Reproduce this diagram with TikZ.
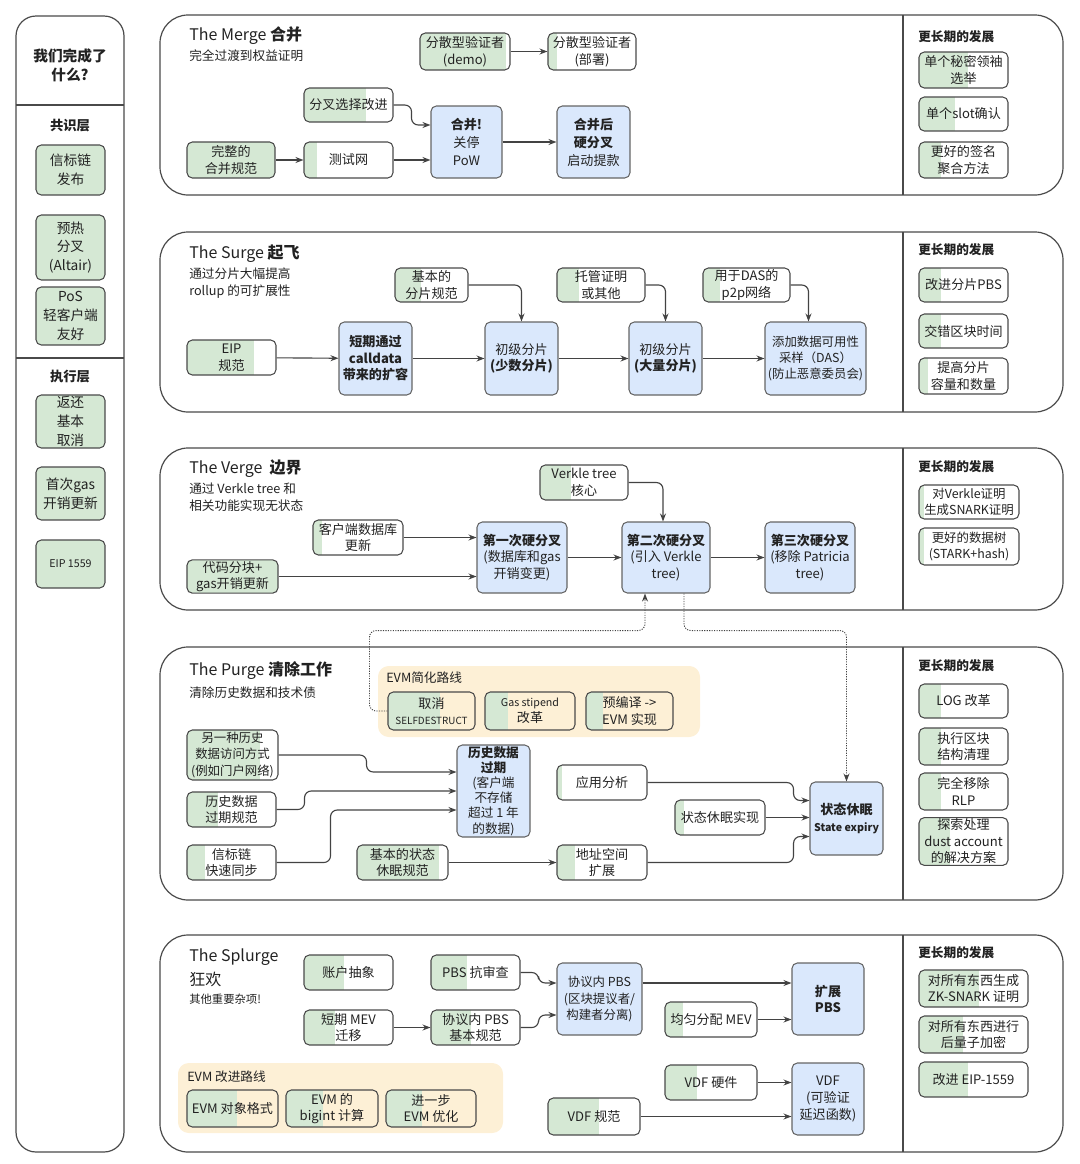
\documentclass[tikz,border=0pt]{standalone}
\usepackage{fontspec}
\setmainfont{Noto Sans CJK SC}
\usetikzlibrary{arrows.meta,calc}
\definecolor{gf}{HTML}{D5E8D4}
\definecolor{bf}{HTML}{DAE8FC}
\definecolor{yf}{HTML}{FDF0D6}
\definecolor{ln}{HTML}{4A4A4A}
\definecolor{tx}{HTML}{222222}
\newcommand\bx[7]{\node[#6, minimum width={(#4-#2)*0.75pt}, minimum height={(#5-#3)*0.75pt}] (#1) at ({(#2+#4)/2},{(#3+#5)/2}) {#7};}
\newcommand\fs[2]{\fontsize{#1}{#2}\selectfont}
\begin{document}
\begin{tikzpicture}[x=0.75pt,y=-0.75pt,
  box/.style={draw=ln, line width=0.8pt, rounded corners=4pt, align=center, inner sep=1pt, text=tx, font=\fs{9.8}{12.4}},
  nb/.style={font=\fs{9.3}{12.2}},
  gp/.style={box, path picture={\fill[gf, sharp corners] (path picture bounding box.south west) rectangle ($(path picture bounding box.north west)!#1!(path picture bounding box.north east)$);}},
  bb/.style={box, fill=bf, draw=ln!85},
  panel/.style={draw=ln, line width=0.9pt, rounded corners=21pt},
  arr/.style={draw=ln!90!black, line width=0.85pt, -{Stealth[length=6pt,width=4.5pt]}, rounded corners=5pt},
  darr/.style={arr, densely dotted, line width=0.7pt},
  ttl/.style={anchor=west, font=\fs{12}{14}, inner sep=0, text=tx},
  sub/.style={anchor=west, font=\fs{9.5}{12.5}, inner sep=0, align=left, text=tx},
  hd/.style={anchor=west, font=\fs{9.5}{12}\bfseries, inner sep=0, text=tx},
  ybox/.style={fill=yf, rounded corners=8pt}
]
\useasboundingbox (0,0) rectangle (1080,1164);

% ---------------- left column ----------------
\draw[panel, rounded corners=15pt] (16,16) rectangle (124,1152);
\draw[ln, line width=0.8pt] (16,105) -- (124,105);
\draw[ln, line width=0.8pt] (16,358) -- (124,358);
\node[font=\fs{11}{14}\bfseries, align=center, text=tx] (lt) at (70,65) {我们完成了\\什么?};
\node[font=\fs{10}{12}\bfseries, text=tx] (l1) at (70,126) {共识层};
\bx{c1}{36}{145}{105}{195}{gp=1, font=\fs{10.3}{14}}{信标链\\发布}
\bx{c2}{36}{215}{105}{280}{gp=1, font=\fs{10.3}{14}}{预热\\分叉\\(Altair)}
\bx{c3}{36}{287}{105}{345}{gp=1, font=\fs{10.3}{14}}{PoS\\轻客户端\\友好}
\node[font=\fs{10}{12}\bfseries, text=tx] (l2) at (70,377) {执行层};
\bx{e1}{36}{395}{105}{448}{gp=1, font=\fs{10.3}{14}}{返还\\基本\\取消}
\bx{e2}{36}{467}{105}{520}{gp=1, font=\fs{10.3}{14}}{首次gas\\开销更新}
\bx{e3}{36}{540}{105}{588}{gp=1, font=\fs{8}{10}}{EIP 1559}

% ---------------- panels ----------------
\draw[panel] (160,15) rectangle (1063,195);  \draw[ln, line width=0.8pt] (903,15) -- (903,195);
\draw[panel] (160,232) rectangle (1063,412); \draw[ln, line width=0.8pt] (903,232) -- (903,412);
\draw[panel] (160,448) rectangle (1063,610); \draw[ln, line width=0.8pt] (903,448) -- (903,610);
\draw[panel] (160,647) rectangle (1063,900); \draw[ln, line width=0.8pt] (903,647) -- (903,900);
\draw[panel] (160,935) rectangle (1063,1152); \draw[ln, line width=0.8pt] (903,935) -- (903,1152);

% ---------------- Merge ----------------
\node[ttl] (mt) at (189,36) {The Merge \textbf{合并}};
\node[sub] (mst) at (189,56) {完全过渡到权益证明};
\bx{vd1}{420}{33}{510}{70}{gp=0.95}{分散型验证者\\(demo)}
\bx{vd2}{548}{33}{636}{70}{gp=0.1}{分散型验证者\\(部署)}
\bx{fc}{304}{88}{393}{122}{gp=0.7}{分叉选择改进}
\bx{ms}{187}{142}{275}{178}{gp=1}{完整的\\合并规范}
\bx{tn}{304}{142}{393}{178}{gp=0.15}{测试网}
\bx{m1}{431}{106}{502}{178}{bb, font=\fs{9.8}{13.5}}{\textbf{合并!}\\关停\\PoW}
\bx{m2}{557}{106}{630}{178}{bb, font=\fs{9.8}{13.5}}{\textbf{合并后}\\\textbf{硬分叉}\\启动提款}
\node[hd] (mr) at (918,37) {更长期的发展};
\bx{mr1}{919}{52}{1008}{88}{gp=0.55}{单个秘密领袖\\选举}
\bx{mr2}{919}{97}{1008}{131}{gp=0.4}{单个slot确认}
\bx{mr3}{919}{142}{1008}{178}{gp=0.25}{更好的签名\\聚合方法}
\draw[arr] (vd1) -- (vd2);
\draw[arr] (ms) -- (tn);
\draw[arr] (tn.east) -- (tn.east -| m1.west);
\draw[arr] (fc.east) -- ++(18,0) |- ($(m1.west)+(0,-17)$);
\draw[arr] (m1) -- (m2);

% ---------------- Surge ----------------
\node[ttl] (st) at (189,254) {The Surge \textbf{起飞}};
\node[sub] (sst) at (189,283) {通过分片大幅提高\\rollup 的可扩展性};
\bx{bs}{395}{268}{468}{302}{gp=0.35}{基本的\\分片规范}
\bx{cp}{557}{268}{645}{302}{gp=0.25}{托管证明\\或其他}
\bx{dp}{703}{268}{790}{302}{gp=0.2}{用于DAS的\\p2p网络}
\bx{eip}{187}{340}{276}{375}{gp=0.75}{EIP\\规范}
\bx{s1}{339}{322}{412}{395}{bb}{\textbf{短期通过}\\\textbf{calldata}\\\textbf{带来的扩容}}
\bx{s2}{485}{322}{558}{395}{bb}{初级分片\\\textbf{(少数分片)}}
\bx{s3}{629}{322}{702}{395}{bb}{初级分片\\\textbf{(大量分片)}}
\bx{s4}{765}{322}{866}{395}{bb, nb}{添加数据可用性\\采样（DAS）\\(防止恶意委员会)}
\node[hd] (sr) at (918,250) {更长期的发展};
\bx{sr1}{919}{268}{1008}{302}{gp=0.25}{改进分片PBS}
\bx{sr2}{919}{314}{1008}{348}{gp=0.25}{交错区块时间}
\bx{sr3}{919}{358}{1008}{394}{gp=0.1}{提高分片\\容量和数量}
\draw[arr] (eip) -- (s1);
\draw[arr] (s1) -- (s2);
\draw[arr] (s2) -- (s3);
\draw[arr] (s3) -- (s4);
\draw[arr] (bs.east) -| (s2.north);
\draw[arr] (cp.east) -| (s3.north);
\draw[arr] (dp.east) -| ($(s4.north)+(-7,0)$);

% ---------------- Verge ----------------
\node[ttl] (vt) at (189,469) {The Verge \ \textbf{边界}};
\node[sub] (vst) at (189,497) {通过 Verkle tree 和\\相关功能实现无状态};
\bx{vk}{540}{465}{628}{500}{gp=0.35}{Verkle tree\\核心}
\bx{cdb}{313}{520}{403}{555}{gp=0.1}{客户端数据库\\更新}
\bx{cc}{187}{560}{278}{593}{gp=1}{代码分块+\\gas开销更新}
\bx{v1}{477}{522}{567}{593}{bb}{\textbf{第一次硬分叉}\\(数据库和gas\\开销变更)}
\bx{v2}{622}{522}{710}{593}{bb}{\textbf{第二次硬分叉}\\(引入 Verkle\\tree)}
\bx{v3}{765}{522}{855}{593}{bb}{\textbf{第三次硬分叉}\\(移除 Patricia\\tree)}
\node[hd] (vr) at (918,467) {更长期的发展};
\bx{vr1}{919}{485}{1019}{519}{gp=0.05, nb}{对Verkle证明\\生成SNARK证明}
\bx{vr2}{919}{528}{1019}{565}{gp=0.05, nb}{更好的数据树\\(STARK+hash)}
\draw[arr] (vk.east) -| ($(v2.north)+(-3,0)$);
\draw[arr] (cdb.east) -- (cdb.east -| v1.west);
\draw[arr] (cc.east) -- (cc.east -| v1.west);
\draw[arr] (v1) -- (v2);
\draw[arr] (v2) -- (v3);

% ---------------- Purge ----------------
\node[ttl] (pt) at (189,671) {The Purge \textbf{清除工作}};
\node[sub] (pst) at (189,693) {清除历史数据和技术债};
\fill[ybox] (378,666) rectangle (700,737);
\node[sub] (evs) at (386,678) {EVM简化路线};
\bx{sd}{388}{692}{475}{730}{gp=0.6}{取消\\{\fs{7.4}{10}SELFDESTRUCT}}
\bx{gs}{485}{692}{575}{730}{gp=0.25}{{\fs{8}{10}Gas stipend}\\改革}
\bx{pc}{586}{692}{673}{730}{gp=0.2}{预编译 ->\\EVM 实现}
\bx{alt}{187}{730}{278}{780}{gp=0.8, nb}{另一种历史\\数据访问方式\\(例如门户网络)}
\bx{hx}{457}{745}{530}{837}{bb, font=\fs{9.5}{11.4}}{\textbf{历史数据}\\\textbf{过期}\\(客户端\\不存储\\超过 1 年\\的数据)}
\bx{ap}{557}{765}{647}{800}{gp=0.05}{应用分析}
\bx{hs}{187}{792}{276}{827}{gp=0.35}{历史数据\\过期规范}
\bx{sx}{675}{800}{765}{835}{gp=0.1}{状态休眠实现}
\bx{se}{810}{782}{883}{855}{bb}{\textbf{状态休眠}\\{\fs{8}{10}\textbf{State expiry}}}
\bx{bsync}{187}{845}{276}{880}{gp=0.2}{信标链\\快速同步}
\bx{bsx}{357}{845}{448}{880}{gp=0.9}{基本的状态\\休眠规范}
\bx{ae}{557}{845}{647}{880}{gp=0.2}{地址空间\\扩展}
\node[hd] (pr) at (918,666) {更长期的发展};
\bx{pr1}{919}{684}{1008}{718}{gp=0.25}{LOG 改革}
\bx{pr2}{919}{728}{1008}{765}{gp=0.25}{执行区块\\结构清理}
\bx{pr3}{919}{773}{1008}{810}{gp=0.25}{完全移除\\RLP}
\bx{pr4}{919}{818}{1008}{865}{gp=0.35}{探索处理\\dust account\\的解决方案}
\draw[arr] (alt.east) -- ++(88,0) |- ($(hx.west)+(0,-19)$);
\draw[arr] (hs.east) -- ++(28,0) |- (hx.west);
\draw[arr] (bsync.east) -- ++(54,0) |- ($(hx.west)+(0,19)$);
\draw[arr] (ap.east) -- ++(146,0) |- ($(se.west)+(0,-18)$);
\draw[arr] (sx.east) -- (sx.east -| se.west);
\draw[arr] (ae.east) -- ++(146,0) |- ($(se.west)+(0,18)$);
\draw[arr] (bsx) -- (ae);
% dotted links to the Verge
\draw[darr] (sd.west) -- ++(-18,0) |- ($(v2.south)+(-21,37)$) -- ($(v2.south)+(-21,0)$);
\draw[darr] ($(v2.south)+(18,0)$) -- ($(v2.south)+(18,37)$) -| (se.north);

% ---------------- Splurge ----------------
\node[ttl] (xt) at (189,957) {The Splurge};
\node[ttl] (xt2) at (189,979) {狂欢};
\node[sub, font=\fs{8.5}{11}] (xst) at (189,999) {其他重要杂项!};
\bx{aa}{304}{955}{393}{990}{gp=0.45}{账户抽象}
\bx{pbc}{431}{955}{520}{990}{gp=0.4}{PBS 抗审查}
\bx{ip}{557}{963}{642}{1035}{bb, nb}{协议内 PBS\\(区块提议者/\\构建者分离)}
\bx{ep}{792}{963}{864}{1035}{bb}{\textbf{扩展}\\\textbf{PBS}}
\bx{mev}{304}{1010}{393}{1045}{gp=0.35}{短期 MEV\\迁移}
\bx{pbb}{431}{1010}{520}{1045}{gp=0.45}{协议内 PBS\\基本规范}
\bx{mevd}{665}{1002}{757}{1037}{gp=0.2}{均匀分配 MEV}
\fill[ybox] (178,1063) rectangle (503,1133);
\node[sub] (evi) at (187,1077) {EVM 改进路线};
\bx{eof}{187}{1090}{278}{1127}{gp=0.55}{EVM 对象格式}
\bx{big}{286}{1090}{378}{1127}{gp=0.4}{EVM 的\\bigint 计算}
\bx{opt}{386}{1090}{476}{1127}{gp=0.4}{进一步\\EVM 优化}
\bx{vh}{665}{1065}{757}{1100}{gp=0.35}{VDF 硬件}
\bx{vs}{548}{1098}{640}{1135}{gp=0.55}{VDF 规范}
\bx{vdf}{792}{1063}{864}{1135}{bb}{VDF\\(可验证\\延迟函数)}
\node[hd] (xr) at (918,953) {更长期的发展};
\bx{xr1}{919}{970}{1028}{1007}{gp=0.55}{对所有东西生成\\ZK-SNARK 证明}
\bx{xr2}{919}{1016}{1028}{1053}{gp=0.4}{对所有东西进行\\后量子加密}
\bx{xr3}{919}{1062}{1028}{1097}{gp=0.45}{改进 EIP-1559}
\draw[arr] (mev) -- (pbb);
\draw[arr] (pbc.east) -- ++(18,0) |- ($(ip.west)+(0,-16)$);
\draw[arr] (pbb.east) -- ++(18,0) |- ($(ip.west)+(0,16)$);
\draw[arr] ($(ip.east)+(0,-16)$) -- ($(ep.west)+(0,-16)$);
\draw[arr] (mevd.east) -- (mevd.east -| ep.west);
\draw[arr] (vh.east) -- (vh.east -| vdf.west);
\draw[arr] (vs.east) -- (vs.east -| vdf.west);
\end{tikzpicture}
\end{document}
